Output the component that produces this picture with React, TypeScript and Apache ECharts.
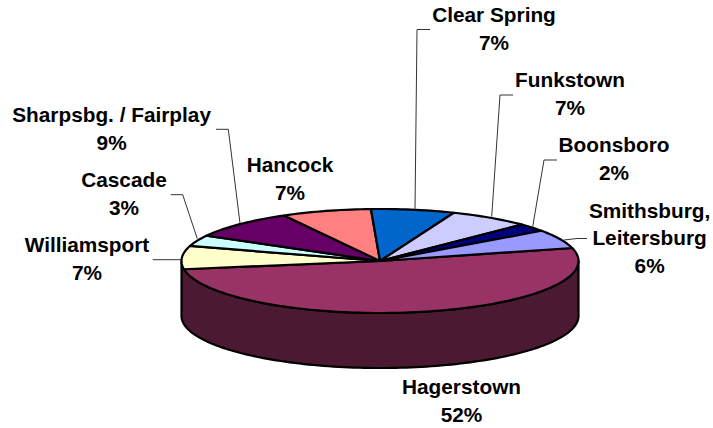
import React, { useEffect, useRef } from "react";
import * as echarts from "echarts";

// Data, clockwise from the start of the Hagerstown slice
const names = [
  "Hagerstown",
  "Williamsport",
  "Cascade",
  "Sharpsbg. / Fairplay",
  "Hancock",
  "Clear Spring",
  "Funkstown",
  "Boonsboro",
  "Smithsburg,\nLeitersburg",
];
const shares = [51.5, 7.2, 3.4, 8.9, 7.3, 6.8, 6.6, 2.45, 5.85];
const topColors = ["#993366", "#FFFFCC", "#CCFFFF", "#660066", "#FF8080", "#0066CC", "#CCCCFF", "#000080", "#9999FF"];
const wallColor = "#4C1933";

// Layout of the tilted pie
const CX = 380;
const CY = 261;
const RX = 198.5;
const RY = 52;
const DEPTH = 55;
const START_DEG = 14.5;
const FONT_SIZE = 20.8;
const LINE_H = 27.7;

// Layout of the labels: centre x, centre y of first line
const labelAnchors: number[][] = [
  [461.5, 386.5],
  [87, 244.5],
  [124, 179.5],
  [111.6, 114.5],
  [290, 164.5],
  [494, 14.5],
  [570, 79.5],
  [614, 144.5],
  [649.6, 210],
];
// Layout of the leader lines
const leaders: number[][][] = [
  [],
  [[152.7, 259.7], [181, 259.7]],
  [[170.7, 194.7], [182.7, 194.7], [197.3, 238.7]],
  [[216, 129.3], [228.3, 129.3], [240, 223.3]],
  [],
  [[430, 29.5], [417, 29.5], [415, 210]],
  [[513, 95], [500, 95], [491.7, 216.7]],
  [[557, 160], [544, 160], [532.7, 226.7]],
  [[587, 238.5], [577, 238.5], [564, 240]],
];

const total = shares.reduce((a, b) => a + b, 0);

function rim(deg: number, dy = 0): number[] {
  const t = (deg * Math.PI) / 180;
  return [CX + RX * Math.cos(t), CY - RY * Math.sin(t) + dy];
}

function arcPoints(from: number, to: number, dy = 0): number[][] {
  const n = Math.max(2, Math.ceil(Math.abs(to - from) / 1.5));
  const pts: number[][] = [];
  for (let i = 0; i <= n; i++) pts.push(rim(from + ((to - from) * i) / n, dy));
  return pts;
}

export default function App() {
  const ref = useRef<HTMLDivElement>(null);
  useEffect(() => {
    if (!ref.current) return;
    const chart = echarts.init(ref.current, undefined, { renderer: "svg" });
    const starts: number[] = [];
    let acc = START_DEG;
    shares.forEach((v) => {
      starts.push(acc);
      acc -= (v / total) * 360;
    });
    const outline = { stroke: "#000", lineWidth: 2.2, lineJoin: "round" };
    chart.setOption({
      animation: false,
      backgroundColor: "#fff",
      series: [
        {
          type: "custom",
          coordinateSystem: "none",
          silent: true,
          data: shares.map((v) => [v]),
          renderItem: (params: any, api: any) => {
            const i = params.dataIndex;
            const sweep = (api.value(0) / total) * 360;
            const from = starts[i];
            const children: any[] = [];
            if (i === 0) {
              const wall = [...arcPoints(0, -180), ...arcPoints(-180, 0, DEPTH)];
              children.push({
                type: "polygon",
                shape: { points: wall },
                style: { fill: wallColor, ...outline },
              });
            }
            children.push({
              type: "polygon",
              shape: { points: [[CX, CY], ...arcPoints(from, from - sweep)] },
              style: { fill: topColors[i], ...outline },
            });
            return { type: "group", children };
          },
          z: 2,
        },
        {
          type: "custom",
          coordinateSystem: "none",
          silent: true,
          data: shares.map((v) => [v]),
          renderItem: (params: any, api: any) => {
            const i = params.dataIndex;
            const pct = Math.round((api.value(0) / total) * 100);
            const children: any[] = [];
            if (leaders[i].length) {
              children.push({
                type: "polyline",
                shape: { points: leaders[i] },
                style: { fill: "none", stroke: "#333", lineWidth: 1 },
              });
            }
            children.push({
              type: "text",
              style: {
                x: labelAnchors[i][0],
                y: labelAnchors[i][1] - LINE_H / 2,
                text: `${names[i]}\n${pct}%`,
                fill: "#000",
                fontFamily: "Liberation Sans",
                fontWeight: "bold",
                fontSize: FONT_SIZE,
                lineHeight: LINE_H,
                align: "center",
                verticalAlign: "top",
              },
            });
            return { type: "group", children };
          },
          z: 3,
        },
      ],
    });
    return () => chart.dispose();
  }, []);
  return <div ref={ref} style={{ position: "fixed", left: 0, top: 0, width: 713, height: 428 }} />;
}
